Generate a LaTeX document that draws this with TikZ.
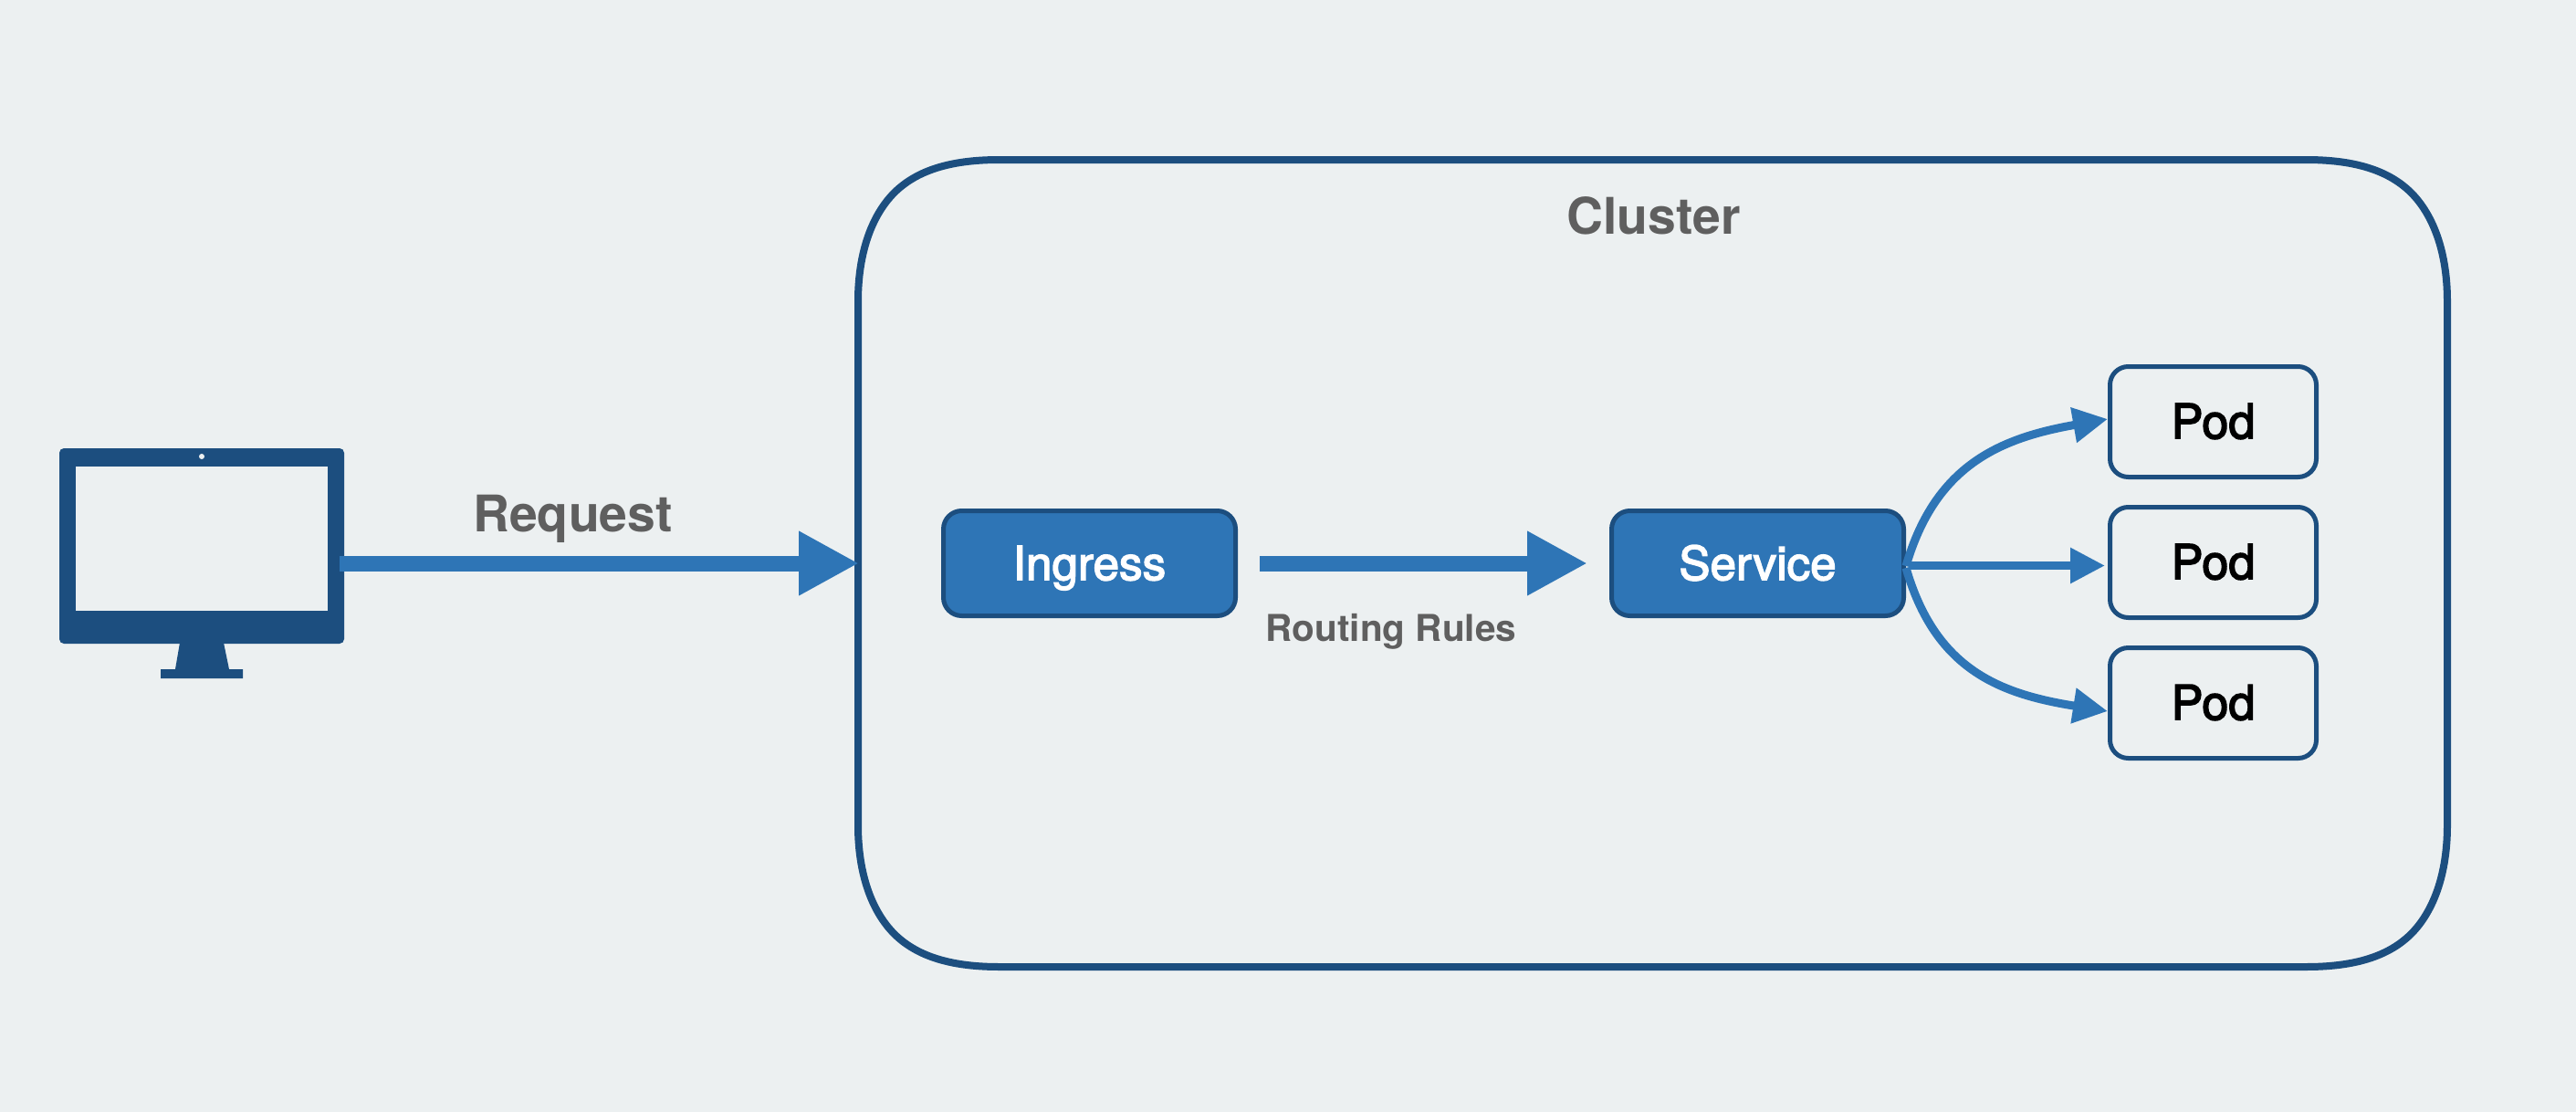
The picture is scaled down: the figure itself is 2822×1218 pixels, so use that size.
\documentclass[tikz,border=0pt]{standalone}
\usepackage{fontspec}
\setmainfont{TeX Gyre Heros}
\newfontfamily\boxfont[RawFeature={embolden=2.8}]{TeX Gyre Heros}
\usetikzlibrary{arrows.meta}
\definecolor{pagecolor}{HTML}{ECF0F1}
\definecolor{darkblue}{HTML}{1C4E7F}
\definecolor{midblue}{HTML}{2E75B6}
\definecolor{labelgray}{HTML}{5F5F5F}
\tikzset{
	labelstyle/.style={anchor=base,inner sep=0pt,text=labelgray},
	bigtextstyle/.style={font=\fontsize{55.3}{60}\bfseries\selectfont},
	smalltextstyle/.style={font=\fontsize{40.5}{46}\bfseries\selectfont},
	boxstyle/.style={rectangle,rounded corners=20pt,line width=5pt,draw=darkblue,inner sep=0pt,text height=36.5pt,text depth=0pt},
	stepstyle/.style={boxstyle,font=\boxfont\fontsize{51.2}{56}\selectfont,fill=midblue,text=white,minimum width=320pt,minimum height=115pt},
	podstyle/.style={boxstyle,font=\boxfont\fontsize{52.5}{56}\selectfont,text=black,minimum width=226pt,minimum height=121pt},
	bigarrow/.style={draw=midblue,line width=17pt,-{Triangle[length=66pt,width=66pt]}},
	smallarrow/.style={draw=midblue,line width=9pt,-{Triangle[length=38pt,width=37pt]}}
}
\begin{document}
\begin{tikzpicture}[x=1pt,y=-1pt]
	\useasboundingbox (0,0) rectangle (2822,1218);
	\fill[pagecolor] (0,0) rectangle (2822,1218);
	% cluster outline
	\draw[darkblue,line width=8pt] (1095,175) -- (2526,175)
		.. controls (2576,175) and (2612,185) .. (2637,207)
		.. controls (2662,229) and (2681,270) .. (2681,330) -- (2681,904)
		.. controls (2681,964) and (2662,1005) .. (2637,1027)
		.. controls (2612,1049) and (2576,1059) .. (2526,1059) -- (1095,1059)
		.. controls (1045,1059) and (1009,1049) .. (984,1027)
		.. controls (959,1005) and (940,964) .. (940,904) -- (940,330)
		.. controls (940,270) and (959,229) .. (984,207)
		.. controls (1009,185) and (1045,175) .. (1095,175) -- cycle;
	\node[labelstyle,bigtextstyle] (clusterlabel) at (1811.5,256) {Cluster};
	% monitor
	\node[rectangle,rounded corners=5pt,fill=darkblue,minimum width=312pt,minimum height=214pt,inner sep=0pt] (monitor) at (221,598) {};
	\node[rectangle,fill=pagecolor,minimum width=276pt,minimum height=158pt,inner sep=0pt] (screen) at (221,590) {};
	\node[circle,fill=pagecolor,minimum size=6pt,inner sep=0pt] (camera) at (221,500) {};
	\fill[darkblue] (197,704) -- (245,704) -- (251,733) -- (266,733) -- (266,743) -- (176,743) -- (176,733) -- (192,733) -- cycle;
	% boxes
	\node[stepstyle] (ingress) at (1193.5,617) {Ingress};
	\node[stepstyle] (service) at (1925.5,617) {Service};
	\node[podstyle] (pod1) at (2424.5,462) {Pod};
	\node[podstyle] (pod2) at (2424.5,616) {Pod};
	\node[podstyle] (pod3) at (2424.5,770) {Pod};
	% free ends of the request arrow
	\coordinate (monitorport) at (372,617);
	\coordinate (clusteredge) at (941,617);
	\draw[bigarrow] (monitorport) -- (clusteredge);
	\node[labelstyle,bigtextstyle] (requestlabel) at (627.5,582) {Request};
	\draw[bigarrow] ([xshift=24pt]ingress.east) -- ([xshift=-24pt]service.west);
	\node[labelstyle,smalltextstyle] (routinglabel) at (1524,702) {Routing Rules};
	% service to pods
	\draw[smallarrow] ([yshift=-3pt]service.east) .. controls (2120,510) and (2190,480) .. ([yshift=3pt]pod1.west);
	\draw[smallarrow] ([xshift=4pt,yshift=-2.5pt]service.east) -- ([xshift=-3pt,yshift=-3.5pt]pod2.west);
	\draw[smallarrow] ([yshift=-5pt]service.east) .. controls (2120,733) and (2190,760) .. ([yshift=-9pt]pod3.west);
\end{tikzpicture}
\end{document}
